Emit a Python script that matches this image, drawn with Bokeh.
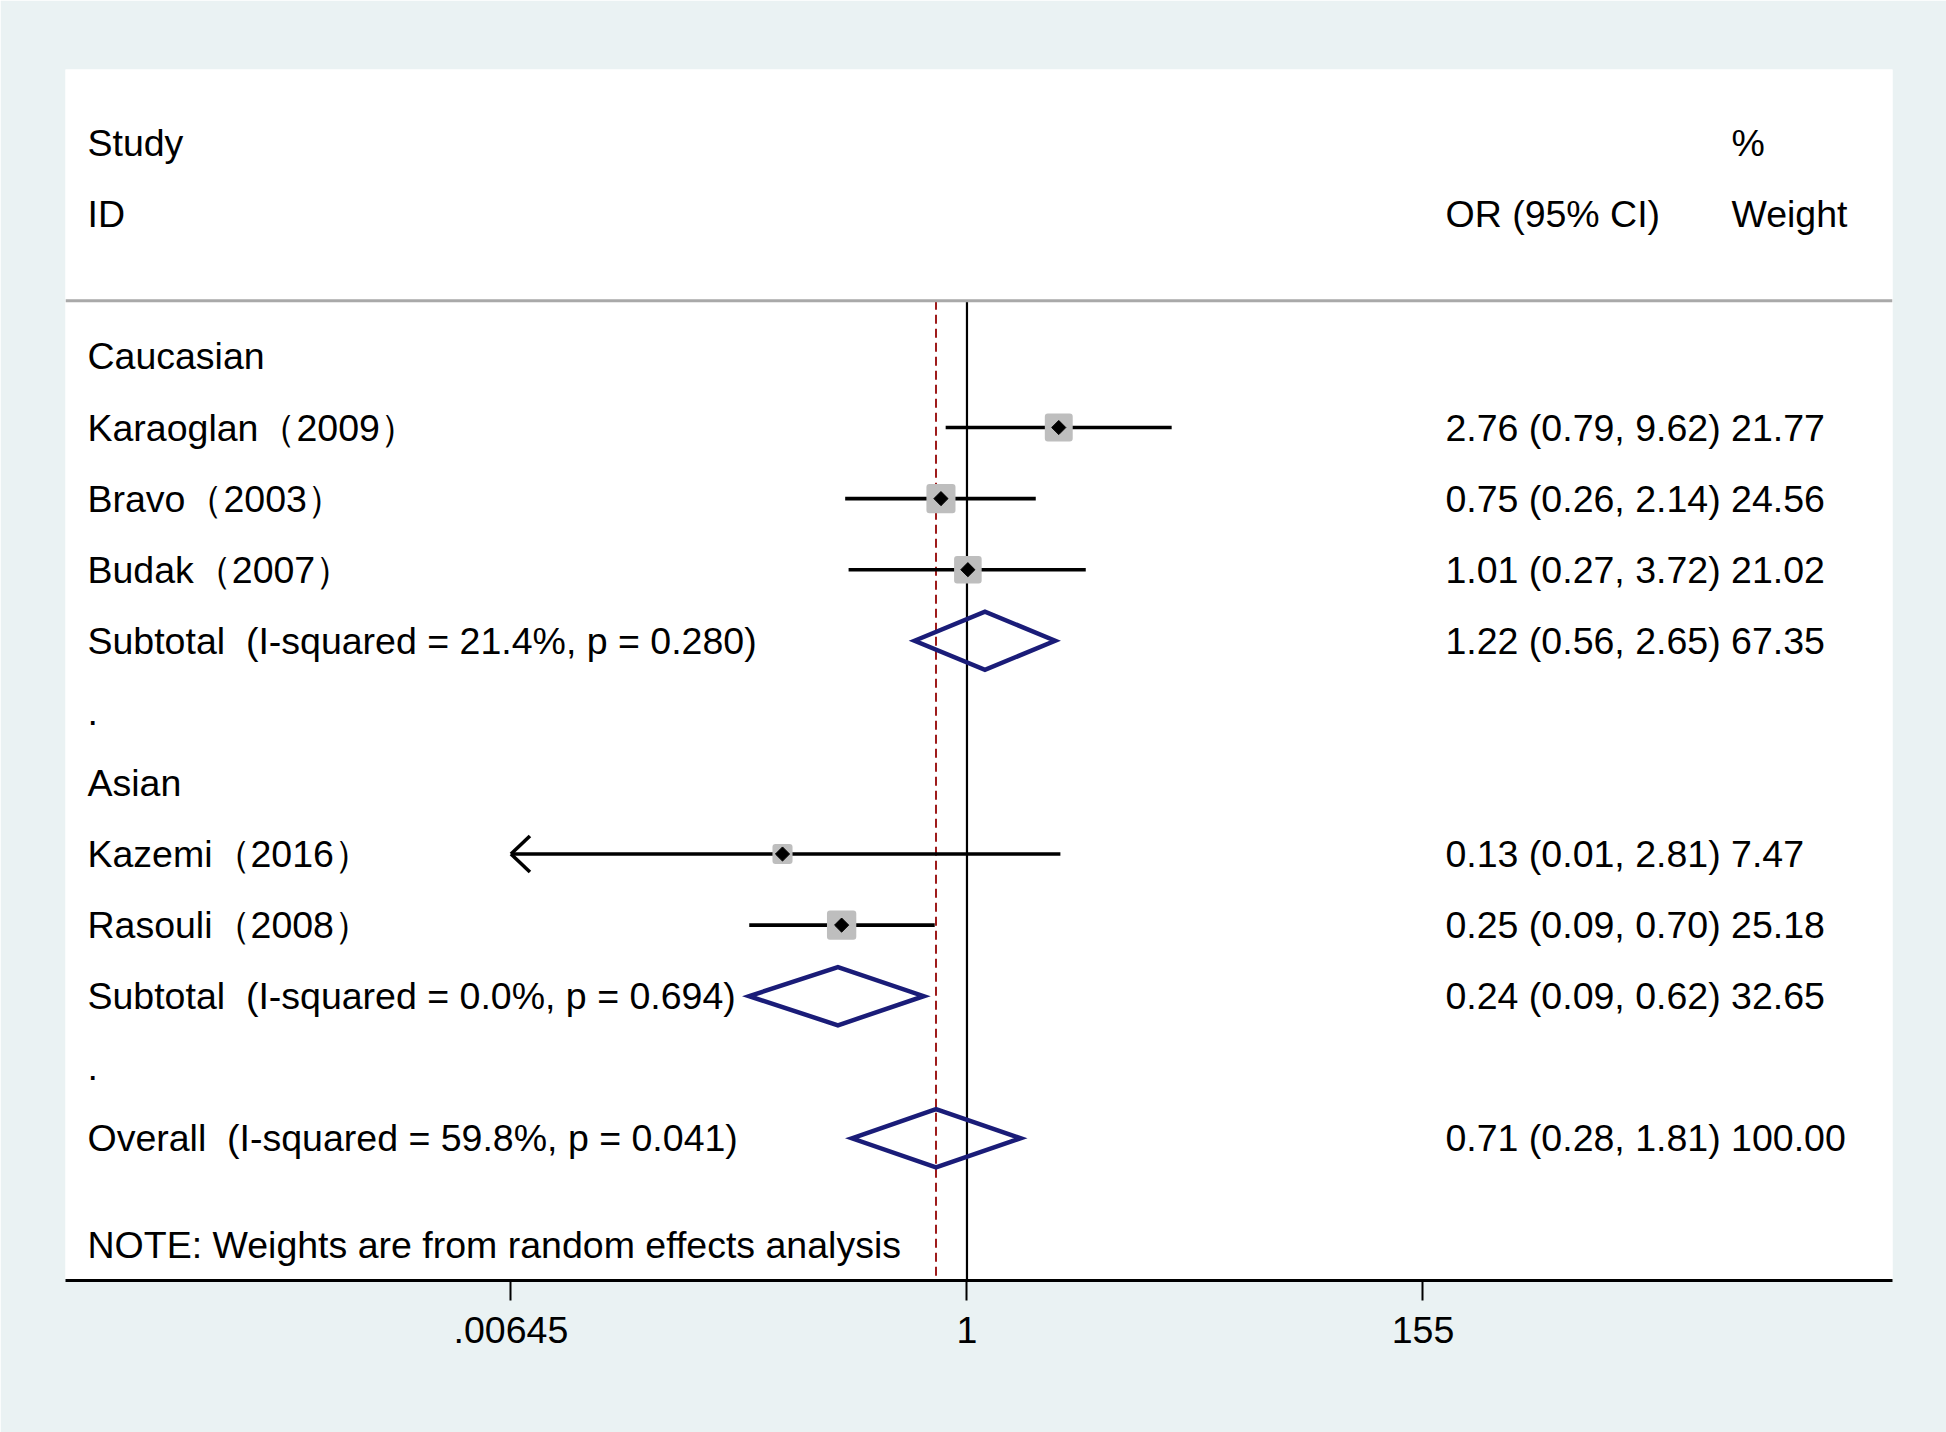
import math
from bokeh.plotting import figure
from bokeh.models import Range1d, FixedTicker, Span, ColumnDataSource
from bokeh.embed import file_html
from bokeh.resources import INLINE
from bokeh.core.properties import value

# ---------------- data ----------------
study_names = ["Karaoglan（2009）", "Bravo（2003）", "Budak（2007）", "Kazemi（2016）", "Rasouli（2008）"]
study_or = [2.76, 0.75, 1.01, 0.13, 0.25]
study_lo = [0.79, 0.26, 0.27, 0.006, 0.09]
study_hi = [9.62, 2.14, 3.72, 2.81, 0.70]
study_wt = [21.77, 24.56, 21.02, 7.47, 25.18]
study_row = [4, 5, 6, 10, 11]

pooled_names = ["Subtotal\u00a0 (I-squared = 21.4%, p = 0.280)",
                "Subtotal\u00a0 (I-squared = 0.0%, p = 0.694)",
                "Overall\u00a0 (I-squared = 59.8%, p = 0.041)"]
pooled_or = [1.22, 0.24, 0.71]
pooled_lo = [0.56, 0.09, 0.28]
pooled_hi = [2.65, 0.62, 1.81]
pooled_wt = [67.35, 32.65, 100.00]
pooled_row = [7, 12, 14]

group_names = ["Caucasian", ".", "Asian", "."]
group_row = [3, 8, 9, 13]

header_left = ["Study", "ID"]
header_left_row = [0, 1]
header_ci = ["OR (95% CI)"]
header_ci_row = [1]
header_wt = ["%", "Weight"]
header_wt_row = [0, 1]

note_text = "NOTE: Weights are from random effects analysis"
note_row = 15.5

tick_values = [0.00645, 1, 155]
tick_labels = [".00645", "1", "155"]

overall_or = pooled_or[-1]

# ---------------- layout constants ----------------
FONT = value("Liberation Sans")
FS = "37.5px"
X_START, X_END = math.exp(-9.97), math.exp(10.236)
Y_BOTTOM, Y_TOP = 16.0, -1.037
SEP = 2.217
XL = math.exp(-9.727)
XR = math.exp(5.292)
XW = math.exp(8.455)
NAVY = "#1A1C78"
MAROON = "#9E1B1B"
BOXGRAY = "#BEBEBE"
BG = "#EAF2F3"

p = figure(width=1946, height=1432, x_axis_type="log",
           x_range=Range1d(X_START, X_END), y_range=Range1d(Y_BOTTOM, Y_TOP),
           output_backend="svg", toolbar_location=None, y_axis_location=None,
           min_border_left=65, min_border_right=54, min_border_top=69, min_border_bottom=152)
p.background_fill_color = "white"
p.border_fill_color = BG
p.outline_line_color = None
p.xgrid.visible = False
p.ygrid.visible = False

ax = p.xaxis[0]
ax.ticker = FixedTicker(ticks=tick_values)
ax.major_label_overrides = {v: l for v, l in zip(tick_values, tick_labels)}
ax.axis_line_width = 3
ax.axis_line_color = "black"
ax.major_tick_line_width = 2
ax.major_tick_out = 20
ax.major_tick_in = 0
ax.minor_tick_line_color = None
ax.major_label_text_font = "Liberation Sans"
ax.major_label_text_font_size = FS
ax.major_label_text_color = "black"
ax.major_label_standoff = 16

# header separator
p.add_layout(Span(location=SEP, dimension="width", line_color="#A9A9A9", line_width=3))

# reference lines: null (1) and overall estimate
p.segment(x0=[1], y0=[SEP], x1=[1], y1=[Y_BOTTOM], line_color="black", line_width=2.2)
p.segment(x0=[overall_or], y0=[SEP], x1=[overall_or], y1=[Y_BOTTOM],
          line_color=MAROON, line_width=2, line_dash="9 5")

# study CIs
xmin = tick_values[0]
lo_draw = [max(l, xmin) for l in study_lo]
p.segment(x0=lo_draw, y0=study_row, x1=study_hi, y1=study_row, line_color="black", line_width=3.6)

# arrows for truncated CIs
arm_x, arm_y = math.exp(19 / 90.42), 0.253
ax0, ay0, ax1, ay1 = [], [], [], []
for l, r in zip(study_lo, study_row):
    if l < xmin:
        for s in (-1, 1):
            ax0.append(xmin); ay0.append(r)
            ax1.append(xmin * arm_x); ay1.append(r + s * arm_y)
p.segment(x0=ax0, y0=ay0, x1=ax1, y1=ay1, line_color="black", line_width=3.6)

# weight boxes
side = [4.05 * math.sqrt(w) + 3 for w in study_wt]
box_src = ColumnDataSource(dict(x=study_or, y=study_row, s=side))
p.rect(x="x", y="y", width="s", height="s", width_units="screen", height_units="screen",
       source=box_src, fill_color=BOXGRAY, line_color=BOXGRAY, line_width=6, line_join="round")
p.scatter(x=study_or, y=study_row, marker="square", angle=math.pi / 4, size=10,
          fill_color="black", line_color="black")

# pooled diamonds
dh = 0.41
xs = [[l, o, h, o] for l, o, h in zip(pooled_lo, pooled_or, pooled_hi)]
ys = [[r, r - dh, r, r + dh] for r in pooled_row]
p.patches(xs=xs, ys=ys, fill_color=None, line_color=NAVY, line_width=4.5, line_join="miter")

# texts
def fmt(o, l, h, w):
    return f"{o:.2f} ({l:.2f}, {h:.2f}) {w:.2f}"

left_txt = header_left + group_names + study_names + pooled_names + [note_text]
left_row = header_left_row + group_row + study_row + pooled_row + [note_row]
p.text(x=[XL] * len(left_txt), y=left_row, text=left_txt, text_font=FONT, text_font_size=FS,
       text_align="left", text_baseline="middle", text_color="black")

ci_txt = header_ci + [fmt(*t) for t in zip(study_or, study_lo, study_hi, study_wt)] + \
         [fmt(*t) for t in zip(pooled_or, pooled_lo, pooled_hi, pooled_wt)]
ci_row = header_ci_row + study_row + pooled_row
p.text(x=[XR] * len(ci_txt), y=ci_row, text=ci_txt, text_font=FONT, text_font_size=FS,
       text_align="left", text_baseline="middle", text_color="black")

p.text(x=[XW] * len(header_wt), y=header_wt_row, text=header_wt, text_font=FONT, text_font_size=FS,
       text_align="left", text_baseline="middle", text_color="black")

open("out.html", "w").write(file_html(p, INLINE))
